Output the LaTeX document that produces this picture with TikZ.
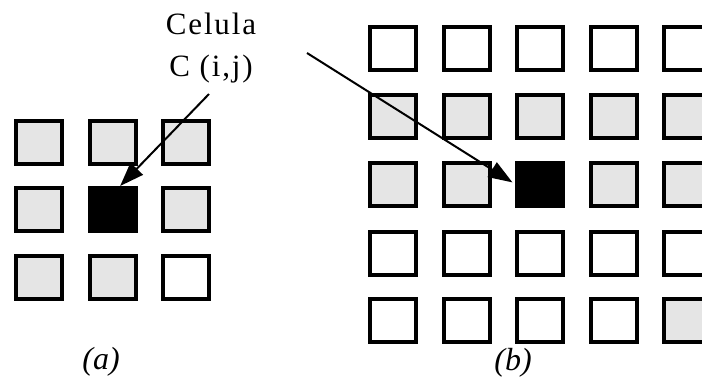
\documentclass[tikz,border=0pt]{standalone}
\usepackage{fontspec}
\setmainfont{Liberation Serif}
\usetikzlibrary{arrows.meta,calc}

\tikzset{
  cell/.style={draw=black, line width=4pt, minimum width=46pt, minimum height=43pt,
               inner sep=0pt, fill=white},
  shadedcell/.style={cell, fill=black!10},
  centercell/.style={cell, fill=black},
  pointer/.style={line width=2pt, -{Triangle[length=24pt,width=17pt]}},
  caption/.style={font=\fontsize{32}{36}\selectfont\itshape, inner sep=0pt},
  celltext/.style={font=\fontsize{31}{42}\selectfont\addfontfeature{LetterSpace=6},
                   align=center, inner sep=0pt}
}

\begin{document}
\begin{tikzpicture}[x=1pt, y=-1pt]
  \useasboundingbox (0,0) rectangle (702,378);
  \clip (0,0) rectangle (702,378);

  % grid (a): 3x3 neighbourhood
  \foreach \r/\y in {1/142, 2/209.5, 3/277.5} {
    \foreach \c/\x in {1/39, 2/112.5, 3/186} {
      \node[shadedcell] (a\r\c) at (\x,\y) {};
    }
  }
  \node[cell] (a33) at (186,277.5) {};
  \node[centercell] (a22) at (112.5,209.5) {};

  % grid (b): 5x5 lattice
  \foreach \r/\y in {1/48.5, 2/116, 3/184, 4/253, 5/320} {
    \foreach \c/\x in {1/393, 2/466.5, 3/540, 4/613.5, 5/687} {
      \node[cell] (b\r\c) at (\x,\y) {};
    }
  }
  \foreach \c/\x in {1/393, 2/466.5, 3/540, 4/613.5, 5/687} {
    \node[shadedcell] (b2\c) at (\x,116) {};
  }
  \foreach \c/\x in {1/393, 2/466.5, 4/613.5, 5/687} {
    \node[shadedcell] (b3\c) at (\x,184) {};
  }
  \node[shadedcell] (b55) at (687,320) {};
  \node[centercell] (b33) at (540,184) {};

  % label and its two pointers
  \node[celltext] (lbl) at (211,48) {Celula\\C (i,j)};
  \coordinate (p1) at (209,94);
  \coordinate (p2) at (307,53);
  \draw[pointer] (p1) -- (a22.72);
  \draw[pointer, shorten >=3pt] (p2) -- (b33.west);

  % captions
  \node[caption] (capa) at (101,362) {(a)};
  \node[caption] (capb) at (513,363) {(b)};
\end{tikzpicture}
\end{document}
